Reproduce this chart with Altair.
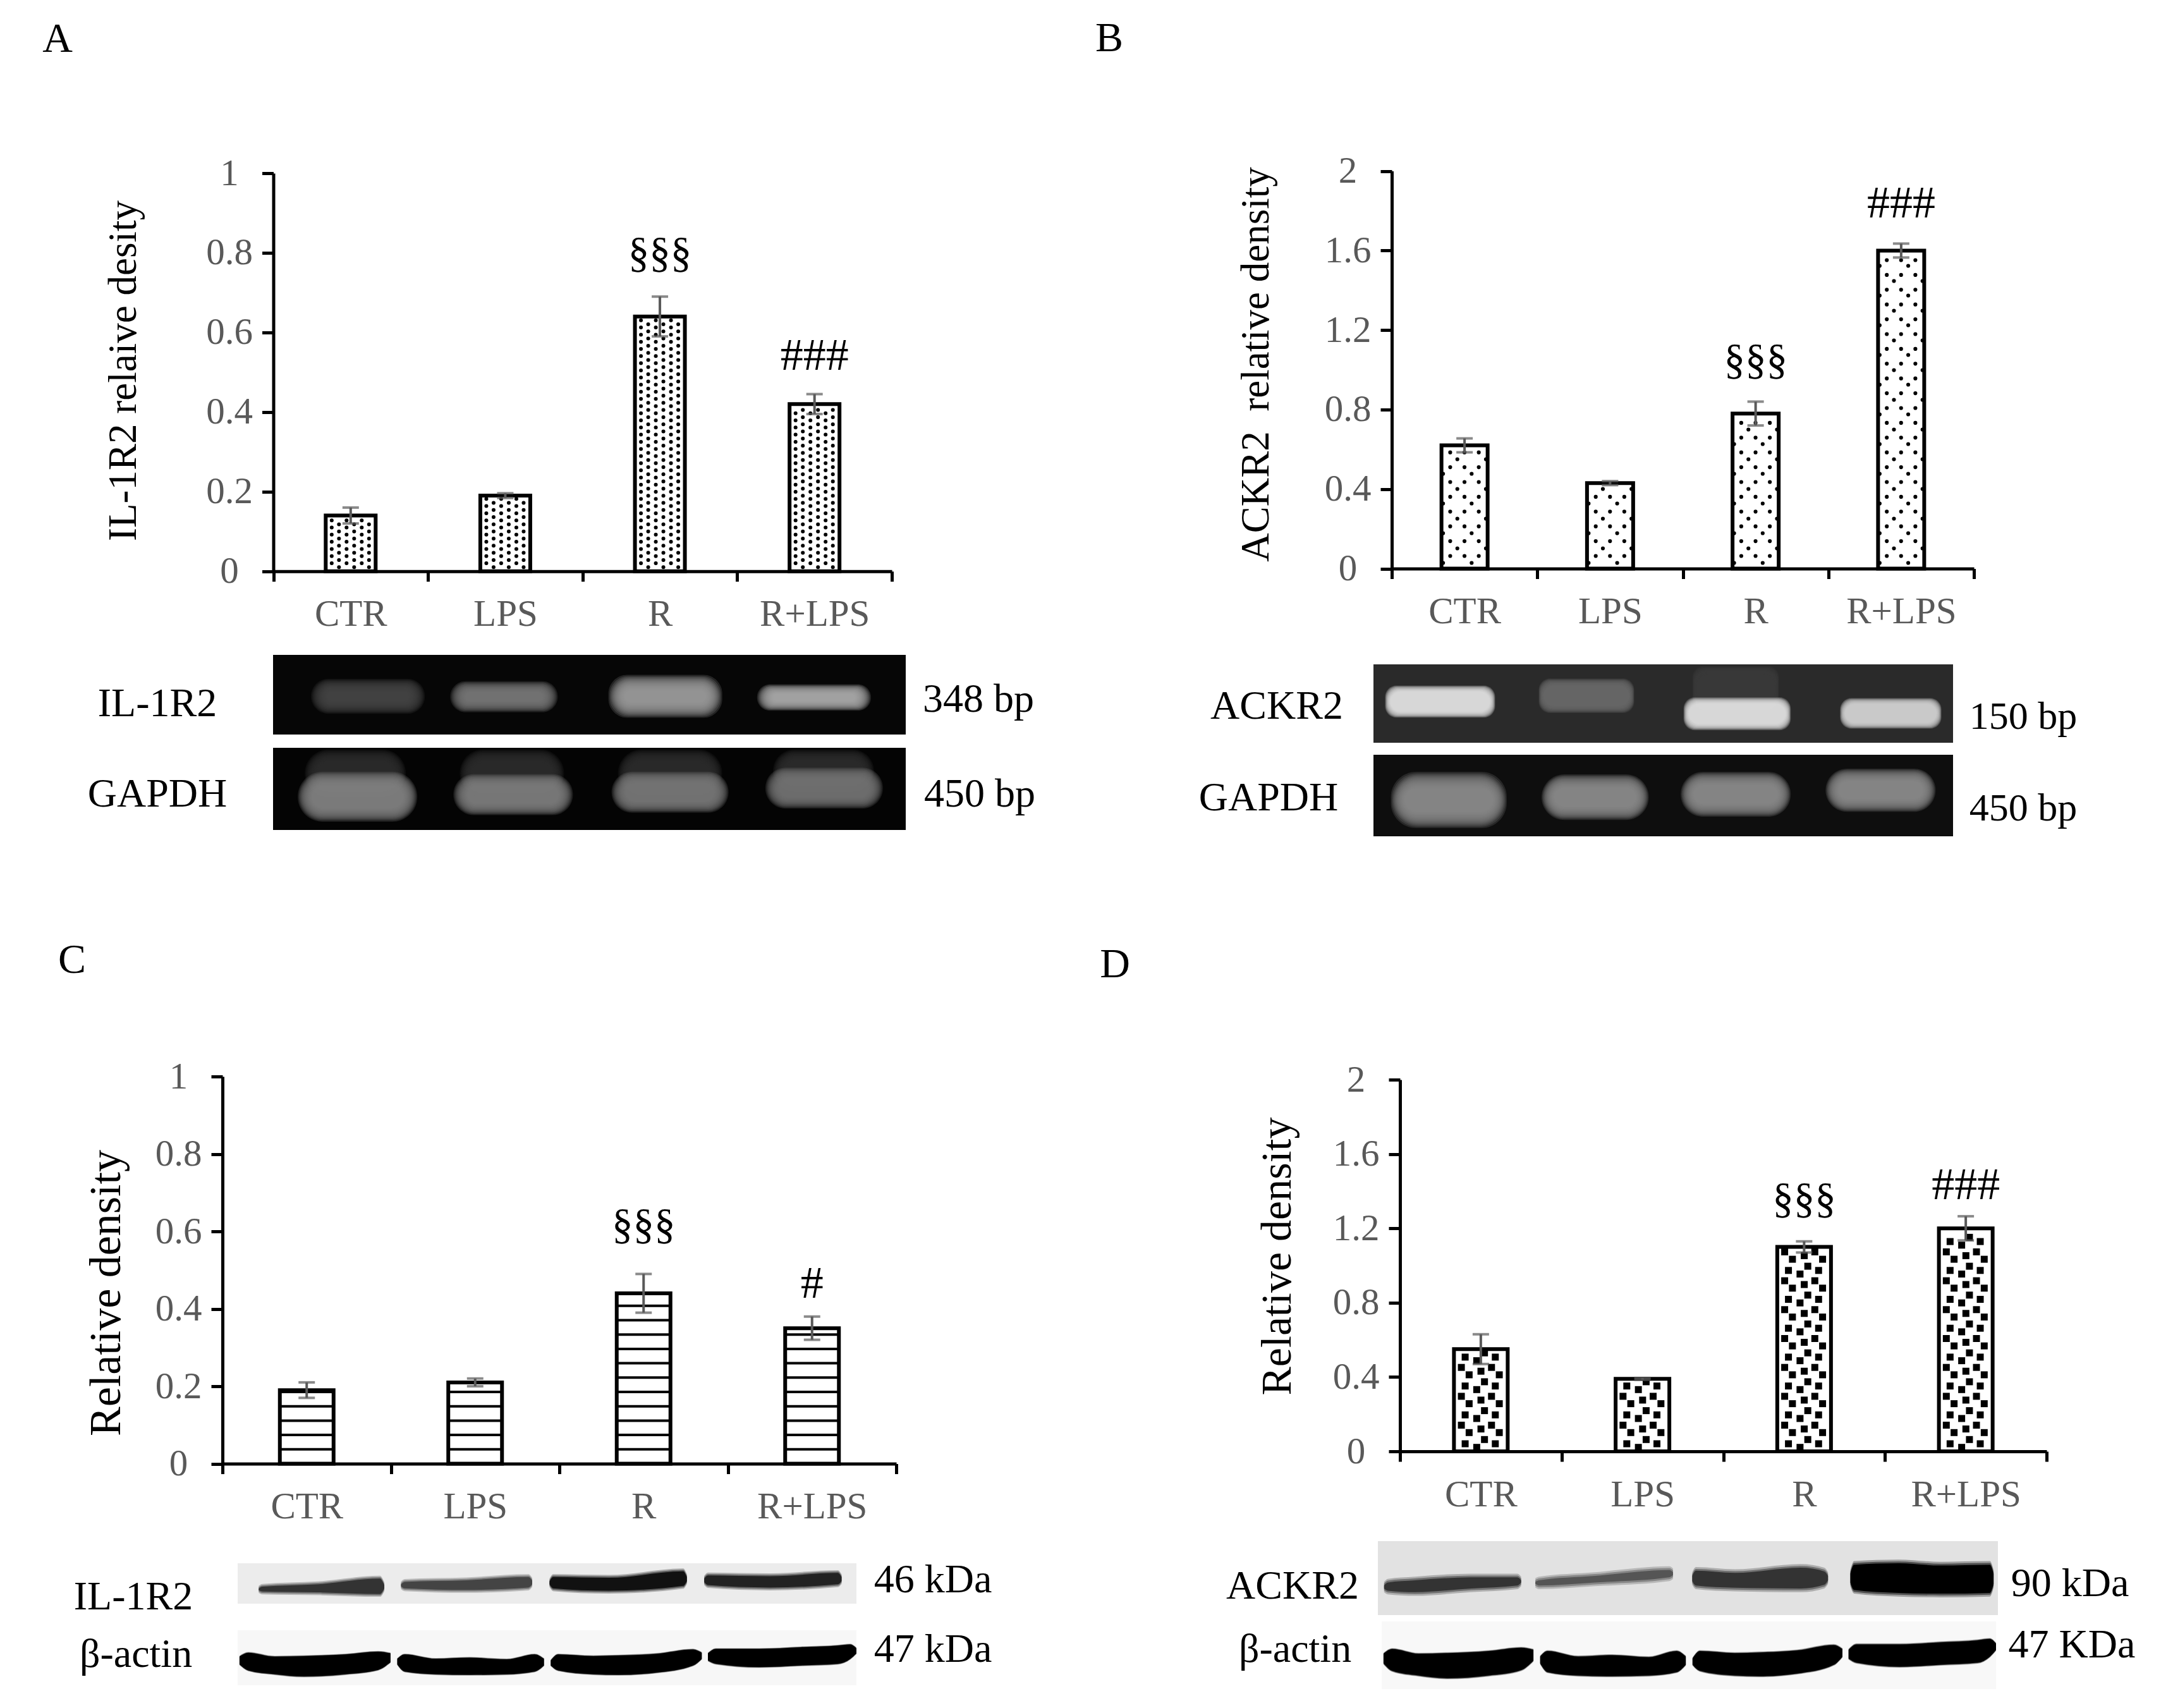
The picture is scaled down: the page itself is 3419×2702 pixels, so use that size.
import altair as alt
import pandas as pd

# bar heights and error bars
groups = ["CTR", "LPS", "R", "R+LPS"]
a_values = [0.14, 0.19, 0.64, 0.42]
a_errors = [0.02, 0.006, 0.05, 0.025]
b_values = [0.62, 0.43, 0.78, 1.6]
b_errors = [0.035, 0.01, 0.06, 0.035]
c_values = [0.19, 0.21, 0.44, 0.35]
c_errors = [0.02, 0.01, 0.05, 0.03]
d_values = [0.55, 0.39, 1.1, 1.2]
d_errors = [0.08, 0.005, 0.03, 0.065]

# significance marks: text, group, height on the y scale, size
a_marks = [("§§§", "R", 0.797, 67), ("###", "R+LPS", 0.541, 72)]
b_marks = [("§§§", "R", 1.044, 67), ("###", "R+LPS", 1.838, 72)]
c_marks = [("§§§", "R", 0.614, 67), ("#", "R+LPS", 0.464, 72)]
d_marks = [("§§§", "R", 1.354, 67), ("###", "R+LPS", 1.432, 72)]

# gel bands as left, right, top, bottom (percent of the strip) and peak grey
a_gel1 = [(6, 24, 30, 74, "#484848"), (28, 45, 33, 72, "#7a7a7a"), (53, 71, 25, 79, "#9c9c9c"), (76.5, 94.5, 37, 70, "#aaaaaa")]
a_gel2 = [(5, 21, 2, 60, "#2c2c2c"), (29.5, 46, 2, 60, "#2c2c2c"), (54.5, 71, 2, 60, "#2c2c2c"), (79, 95, 2, 55, "#2c2c2c"),
          (3.9, 22.8, 29, 90, "#848484"), (28.5, 47.4, 32, 82, "#7c7c7c"), (53.5, 72, 29, 79, "#787878"), (77.8, 96.4, 24, 74, "#747474")]
b_gel1 = [(2, 21, 27, 68, "#e0e0e0"), (28.5, 45, 18, 62, "#6a6a6a"), (55, 70, 2, 60, "#3e3e3e"), (53.5, 72, 42, 84, "#e0e0e0"), (80.5, 98, 43, 82, "#d0d0d0")]
b_gel2 = [(3, 23, 21, 90, "#8c8c8c"), (29, 47.5, 24, 80, "#8c8c8c"), (53, 72, 21, 76, "#8c8c8c"), (78, 97, 17, 70, "#8c8c8c")]

# western bands traced along the strip: x, top, bottom in percent, one tuple per lane outline
c_blot1 = [
    ("#333333", [(3.4, 63, 66), (4, 58, 70), (13, 52, 72), (23, 38, 76), (23.7, 54, 62)]),
    ("#444444", [(26.4, 52, 57), (27, 46, 62), (37, 42, 66), (47, 34, 60), (47.6, 43, 52)]),
    ("#111111", [(50.4, 45, 52), (51, 34, 62), (60, 36, 68), (72, 20, 56), (72.6, 34, 44)]),
    ("#222222", [(75.4, 38, 47), (76, 30, 54), (86, 32, 60), (97, 24, 52), (97.6, 34, 44)]),
]
d_blot1 = [
    ("#333333", [(1, 60, 64), (1.6, 56, 67), (6, 53, 69), (15, 49, 64), (22.5, 49, 60), (23.1, 53, 56)]),
    ("#555555", [(25.4, 55, 58), (26, 53, 60), (35, 47, 56), (47, 39, 49), (47.6, 42, 46)]),
    ("#333333", [(50.7, 47, 54), (51.3, 40, 60), (57.6, 43, 63), (68.2, 36, 64), (72, 41, 59), (72.6, 47, 53)]),
    ("#000000", [(76.2, 44, 56), (76.8, 32, 66), (84, 30, 70), (90.7, 33, 71), (98.7, 32, 70), (99.3, 44, 58)]),
]
actin = [
    ("#000000", [(0.3, 48, 62), (1.7, 41, 73), (6, 48, 80), (10.7, 47, 84), (17.4, 44, 80), (22.7, 39, 72), (24.7, 42, 58)]),
    ("#000000", [(25.8, 52, 62), (27, 44, 75), (32, 52, 80), (37.5, 50, 81), (43.5, 53, 80), (48, 44, 75), (49.5, 52, 64)]),
    ("#000000", [(50.6, 55, 64), (51.8, 44, 73), (57.5, 47, 80), (61.5, 46, 81), (67.6, 43, 77), (73.6, 35, 64), (75, 41, 52)]),
    ("#000000", [(76, 42, 55), (77.3, 34, 61), (84.3, 34, 67), (91, 31, 64), (97, 28, 61), (99, 26, 52), (100, 33, 42)]),
]

# text outside the plots: text, x, y, size
labels = [
    ("A", 91, 62, 66), ("B", 1755, 61, 66), ("C", 114, 1519, 66), ("D", 1764, 1526, 66),
    ("IL-1R2", 249, 1114, 64), ("GAPDH", 249, 1257, 64), ("348 bp", 1548, 1107, 64), ("450 bp", 1550, 1257, 64),
    ("ACKR2", 2020, 1118, 64), ("GAPDH", 2007, 1263, 64), ("150 bp", 3201, 1134, 62), ("450 bp", 3201, 1279, 62),
    ("IL-1R2", 211, 2527, 64), ("β-actin", 215, 2618, 64), ("46 kDa", 1476, 2500, 64), ("47 kDa", 1476, 2610, 64),
    ("ACKR2", 2045, 2510, 64), ("β-actin", 2049, 2610, 64), ("90 kDa", 3275, 2506, 64), ("47 KDa", 3278, 2603, 64),
]

PAGE = 8
SERIF = "Liberation Serif"
GREY = "#595959"
W, H = 3419 - 2 * PAGE, 2702 - 2 * PAGE


def band_x(x0, x1, axis=None):
    return alt.X("group:N", sort=None, axis=axis,
                 scale=alt.Scale(type="band", domain=groups, range=[x0 - PAGE, x1 - PAGE],
                                 paddingInner=0, paddingOuter=0))


def lane_x(x0, x1):
    return alt.X("lane:Q", axis=None, scale=alt.Scale(domain=[0, 4], range=[x0 - PAGE, x1 - PAGE], nice=False))


def value_y(field, top, y0, ymax, axis=None):
    return alt.Y(field, axis=axis, scale=alt.Scale(domain=[0, ymax], range=[y0 - PAGE, top - PAGE], nice=False))


# fill patterns, as offsets in pixels from the bottom left of a bar
def pattern_a(w, h):
    out = []
    for i, dx in enumerate([9.5, 21, 33, 45, 57, 68.5]):
        y = 6.5 if i % 2 else 12.7
        while y < h - 4:
            out.append((dx, y))
            y += 11.3
    return out


def pattern_b(w, h):
    out = []
    for i in range(7):
        dx = 2.5 + 11.3 * i
        if i % 2:
            y, step = 20, 23.4
        elif i % 4 == 2:
            y, step = 32, 47
        else:
            y, step = 9, 47
        while y < h - 5:
            out.append((dx, y))
            y += step
    return out


def pattern_d(w, h):
    cell = [(17.7, 0), (36, -5.7), (0.6, 6.7), (11.7, -16.3), (24, -28), (42.7, -22.3)]
    out = []
    for i in range(-1, 3):
        for j in range(0, int(h // 45.7) + 2):
            for cx, cy in cell:
                dx = cx + i * 47.7
                dy = 12 + j * 45.7 + cy
                if 4 < dx < w - 4 and 4 < dy < h - 4:
                    out.append((dx, dy))
    return out


def panel(values, errors, marks, ymax, ticks, title, title_xy, title_size, box, bar_w, fill):
    x0, x1, top, y0 = box
    step = (x1 - x0) / 4
    unit = ymax / (y0 - top)
    df = pd.DataFrame({"group": groups, "value": values,
                       "low": [v - e for v, e in zip(values, errors)],
                       "high": [v + e for v, e in zip(values, errors)]})

    y_axis = alt.Axis(orient="left", offset=-(x0 - PAGE), values=ticks, format="~g", grid=False,
                      domainColor="black", domainWidth=5, tickColor="black", tickWidth=5, tickSize=18,
                      labelFont=SERIF, labelFontSize=59, labelColor=GREY, labelPadding=52, labelAlign="center",
                      title=title, titleFont=SERIF, titleFontSize=title_size, titleFontWeight="normal",
                      titleColor="black", titleAngle=270, titleAlign="center", titleBaseline="middle",
                      titleX=title_xy[0] - x0, titleY=title_xy[1] - PAGE)
    x_axis = alt.Axis(orient="bottom", offset=-(H - (y0 - PAGE)), tickBand="extent", grid=False, title=None,
                      domainColor="black", domainWidth=5, tickColor="black", tickWidth=5, tickSize=16,
                      labelFont=SERIF, labelFontSize=59, labelColor=GREY, labelAngle=0, labelPadding=23)

    layers = [alt.Chart(df).mark_bar(size=bar_w, fill="white", stroke="black", strokeWidth=6).encode(
        x=band_x(x0, x1, x_axis), y=value_y("value:Q", top, y0, ymax, y_axis))]

    # pattern inside each bar
    if fill == "lines":
        rows = []
        for i, v in enumerate(values):
            k = 1
            while k * 22.7 * unit < v - 1.5 * unit:
                rows.append({"lane": i + 0.5 - bar_w / 2 / step, "lane2": i + 0.5 + bar_w / 2 / step,
                             "value": k * 22.7 * unit})
                k += 1
        layers.append(alt.Chart(pd.DataFrame(rows)).mark_rule(color="black", strokeWidth=4).encode(
            x=lane_x(x0, x1), x2="lane2:Q", y=value_y("value:Q", top, y0, ymax)))
    else:
        rows = []
        maker = {"fine": pattern_a, "sparse": pattern_b, "square": pattern_d}[fill]
        for i, v in enumerate(values):
            for dx, dy in maker(bar_w, v / unit):
                rows.append({"lane": i + 0.5 + (dx - bar_w / 2) / step, "value": dy * unit})
        size = {"fine": 36, "sparse": 38, "square": 121}[fill]
        shape = "square" if fill == "square" else "circle"
        layers.append(alt.Chart(pd.DataFrame(rows)).mark_point(
            filled=True, color="black", opacity=1, shape=shape, size=size).encode(
            x=lane_x(x0, x1), y=value_y("value:Q", top, y0, ymax)))

    # error bars
    layers.append(alt.Chart(df).mark_rule(color=GREY, strokeWidth=4).encode(
        x=band_x(x0, x1), y=value_y("low:Q", top, y0, ymax), y2="high:Q"))
    for end in ["low:Q", "high:Q"]:
        layers.append(alt.Chart(df).mark_tick(color=GREY, size=26, thickness=4).encode(
            x=band_x(x0, x1), y=value_y(end, top, y0, ymax)))

    # significance marks
    m = pd.DataFrame(marks, columns=["text", "group", "value", "size"])
    layers.append(alt.Chart(m).mark_text(font=SERIF, color="black", baseline="middle").encode(
        x=band_x(x0, x1), y=value_y("value:Q", top, y0, ymax), text="text:N",
        size=alt.Size("size:Q", scale=None)))
    return layers


def mix(c1, c2, t):
    a = [int(c1[i:i + 2], 16) for i in (1, 3, 5)]
    b = [int(c2[i:i + 2], 16) for i in (1, 3, 5)]
    return "#%02x%02x%02x" % tuple(round(p + (q - p) * t) for p, q in zip(a, b))


def strip_scales(box):
    left, right, top, bottom = box
    x = alt.X("x:Q", axis=None, scale=alt.Scale(domain=[0, 100], range=[left - PAGE, right - PAGE], nice=False))
    y = alt.Y("y:Q", axis=None, scale=alt.Scale(domain=[0, 100], range=[top - PAGE, bottom - PAGE], nice=False))
    return x, y


def strip_back(background, box):
    x, y = strip_scales(box)
    back = pd.DataFrame({"x": [0], "x2": [100], "y": [0], "y2": [100]})
    return alt.Chart(back).mark_rect(fill=background).encode(x=x, x2="x2:Q", y=y, y2="y2:Q")


def gel(bands, background, box, radius, soft):
    x, y = strip_scales(box)
    # see-through nested rectangles build up the soft edge of a gel band
    rows = []
    steps = 14
    for l, r, t, b, peak in bands:
        for s in range(steps):
            f = s / (steps - 1)
            rows.append({"x": l + (r - l) * soft[0] * f, "x2": r - (r - l) * soft[0] * f,
                         "y": t + (b - t) * soft[1] * f, "y2": b - (b - t) * soft[1] * f, "c": peak})
    return [strip_back(background, box),
            alt.Chart(pd.DataFrame(rows)).mark_rect(cornerRadius=radius, opacity=0.2).encode(
                x=x, x2="x2:Q", y=y, y2="y2:Q", fill=alt.Fill("c:N", scale=None))]


def western(bands, background, box, halo):
    x, y = strip_scales(box)
    out = [strip_back(background, box)]
    # a pale outline under each band, then the band itself
    for grow, weight in [(halo, 0.3), (halo / 2, 0.65), (0, 1.0)]:
        rows = []
        for i, (peak, outline) in enumerate(bands):
            for px, t, b in outline:
                rows.append({"band": i, "x": px, "y": max(t - grow, 0), "y2": min(b + grow, 100),
                             "c": mix(background, peak, weight)})
        out.append(alt.Chart(pd.DataFrame(rows)).mark_area(interpolate="monotone").encode(
            x=x, y=y, y2="y2:Q", detail="band:N", color=alt.Color("c:N", scale=None)))
    return out


layers = []
layers += panel(a_values, a_errors, a_marks, 1, [0, 0.2, 0.4, 0.6, 0.8, 1], "IL-1R2 relaive desity",
                (195, 586), 63, (432.5, 1411, 274, 903.7), 79, "fine")
layers += panel(b_values, b_errors, b_marks, 2, [0, 0.4, 0.8, 1.2, 1.6, 2], "ACKR2\u00a0 relative density",
                (1987, 576), 63, (2202, 3123, 270.6, 899.5), 73, "sparse")
layers += panel(c_values, c_errors, c_marks, 1, [0, 0.2, 0.4, 0.6, 0.8, 1], "Relative density",
                (168, 2045), 70, (352, 1418, 1703, 2315.5), 85, "lines")
layers += panel(d_values, d_errors, d_marks, 2, [0, 0.4, 0.8, 1.2, 1.6, 2], "Relative density",
                (2021, 1987), 68, (2215, 3238, 1708, 2296), 85, "square")

layers += gel(a_gel1, "#060606", (432, 1433, 1036, 1162), 30, (0.14, 0.36))
layers += gel(a_gel2, "#040404", (432, 1433, 1183, 1313), 40, (0.12, 0.28))
layers += gel(b_gel1, "#2a2a2a", (2173, 3090, 1051, 1175), 18, (0.05, 0.2))
layers += gel(b_gel2, "#0e0e0e", (2173, 3090, 1194, 1323), 40, (0.12, 0.3))
layers += western(c_blot1, "#ececec", (376, 1355, 2473, 2537), 7)
layers += western(actin, "#f7f7f7", (376, 1355, 2579, 2666), 1.5)
layers += western(d_blot1, "#e2e2e2", (2180, 3161, 2438, 2555), 5)
layers += western(actin, "#f8f8f8", (2186, 3158, 2565, 2672), 1.5)

text_df = pd.DataFrame(labels, columns=["text", "x", "y", "size"])
text_df["x"] -= PAGE
text_df["y"] -= PAGE
layers.append(alt.Chart(text_df).mark_text(font=SERIF, color="black", baseline="middle", align="center").encode(
    x=alt.X("x:Q", axis=None, scale=None), y=alt.Y("y:Q", axis=None, scale=None),
    size=alt.Size("size:Q", scale=None), text="text:N"))

chart = alt.layer(*layers).resolve_scale(x="independent", y="independent").properties(
    width=W, height=H, padding=0, background="white",
    autosize=alt.AutoSizeParams(type="none")
).configure_view(stroke=None)

chart.save("out.html", embed_options={"renderer": "svg", "actions": False})
